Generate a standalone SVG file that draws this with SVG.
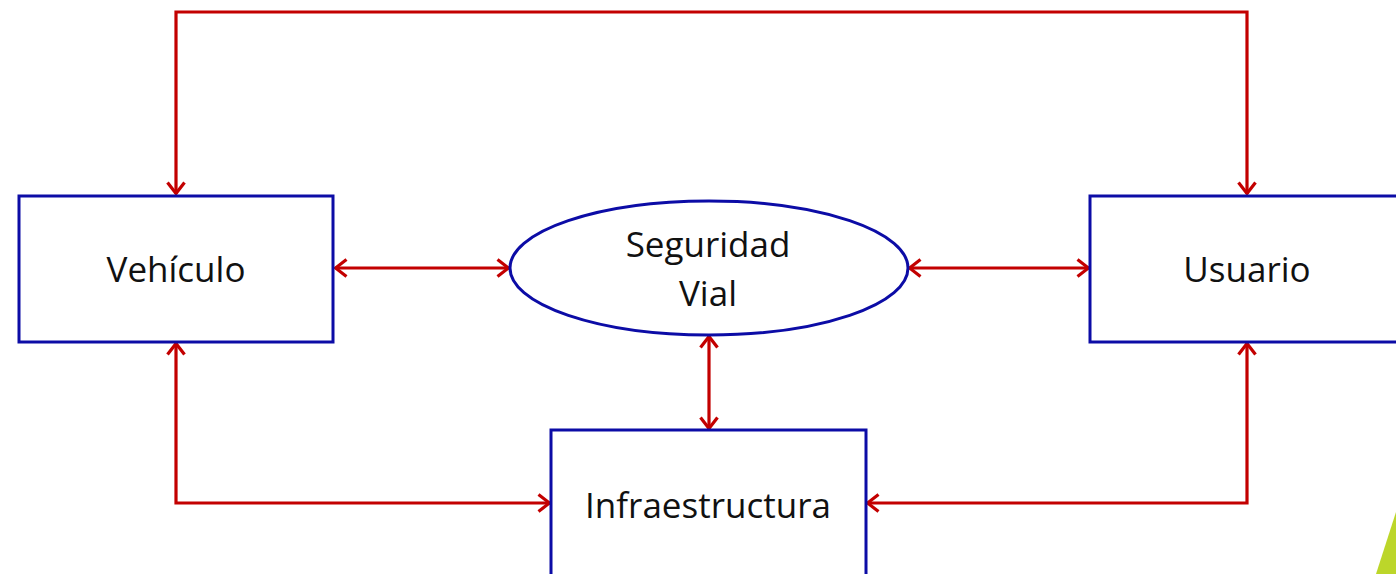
<svg xmlns="http://www.w3.org/2000/svg" width="1396" height="574" viewBox="0 0 1396 574">
<style>
.node{fill:#fff;stroke:#0c0ca6;stroke-width:3}
.lbl{font-family:"Open Sans","Liberation Sans",sans-serif;font-size:35px;fill:#111;text-anchor:middle}
.conn{fill:none;stroke:#c30000;stroke-width:3.2}
</style>
<defs>
<marker id="ah" viewBox="0 0 14 20" refX="13" refY="10" markerWidth="14" markerHeight="20" markerUnits="userSpaceOnUse" orient="auto-start-reverse">
<path d="M1.5,1.5 L12.5,10 L1.5,18.5" fill="none" stroke="#c30000" stroke-width="3.2"/>
</marker>
</defs>
<rect width="1396" height="574" fill="#fff"/>
<polygon points="1396,512 1396,574 1376,574" fill="#bcd62a"/>
<g id="connectors" class="conn">
<polyline points="176,194 176,12 1247,12 1247,194" marker-start="url(#ah)" marker-end="url(#ah)"/>
<line x1="335" y1="268" x2="509" y2="268" marker-start="url(#ah)" marker-end="url(#ah)"/>
<line x1="909" y1="268" x2="1089" y2="268" marker-start="url(#ah)" marker-end="url(#ah)"/>
<line x1="709" y1="336" x2="709" y2="429" marker-start="url(#ah)" marker-end="url(#ah)"/>
<polyline points="176,343 176,503 550,503" marker-start="url(#ah)" marker-end="url(#ah)"/>
<polyline points="1247,343 1247,503 867,503" marker-start="url(#ah)" marker-end="url(#ah)"/>
</g>
<g id="vehiculo">
<rect class="node" x="19" y="196" width="314" height="146"/>
<text class="lbl" x="176" y="282">Vehículo</text>
</g>
<g id="seguridad">
<ellipse class="node" cx="709" cy="268" rx="199" ry="67"/>
<text class="lbl" x="708" y="257">Seguridad</text>
<text class="lbl" x="708" y="306">Vial</text>
</g>
<g id="usuario">
<rect class="node" x="1090" y="196" width="320" height="146"/>
<text class="lbl" x="1247" y="282">Usuario</text>
</g>
<g id="infraestructura">
<rect class="node" x="551" y="430" width="315" height="160"/>
<text class="lbl" x="708" y="518">Infraestructura</text>
</g>
</svg>
